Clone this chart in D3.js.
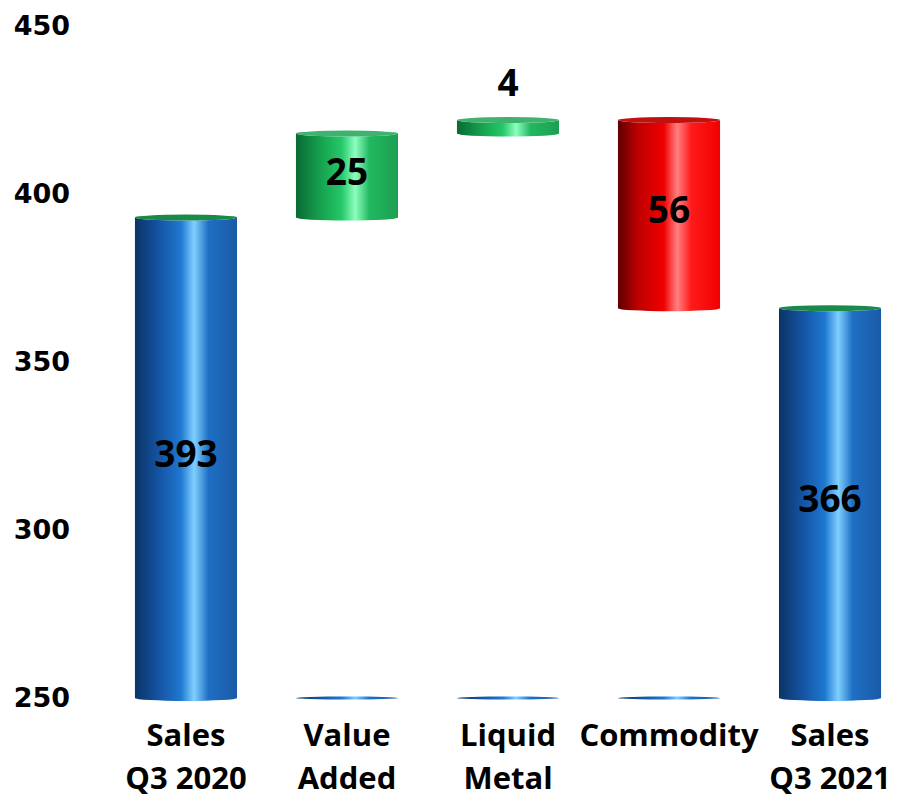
<!DOCTYPE html>
<html>
<head>
<meta charset="utf-8">
<script src="https://cdn.jsdelivr.net/npm/d3@7"></script>
<style>
  body { margin: 0; background: #fff; }
  text { font-family: "Open Sans", Lato, sans-serif; font-weight: bold; fill: #000; }
</style>
</head>
<body>
<div id="chart"></div>
<script>
// data
var categories = ["Sales Q3 2020", "Value Added", "Liquid Metal", "Commodity", "Sales Q3 2021"];
var labelLines = [["Sales", "Q3 2020"], ["Value", "Added"], ["Liquid", "Metal"], ["Commodity"], ["Sales", "Q3 2021"]];
var values = [393, 25, 4, -56, 366];
var kinds = ["total", "up", "up", "down", "total"];
var yTicks = [250, 300, 350, 400, 450];

// dimensions
var W = 911, H = 798;
var margin = {top: 26, right: 0, bottom: 100, left: 105};
var width = W - margin.left - margin.right,
    height = H - margin.top - margin.bottom;

var svg = d3.select("#chart").append("svg")
    .attr("width", W).attr("height", H);

var defs = svg.append("defs");
function grad(id, stops) {
  var g = defs.append("linearGradient").attr("id", id)
    .attr("x1", "0%").attr("x2", "100%").attr("y1", "0%").attr("y2", "0%");
  stops.forEach(function(s) {
    g.append("stop").attr("offset", s[0]).attr("stop-color", s[1]);
  });
}
grad("gTotal", [["0%", "#0b3467"], ["25%", "#1556a6"], ["45%", "#1f78d1"], ["58%", "#7fd0ff"], ["72%", "#1f6fc4"], ["100%", "#1a5aa6"]]);
grad("gUp", [["0%", "#0a6a34"], ["25%", "#16a350"], ["45%", "#25c868"], ["58%", "#8dffc0"], ["72%", "#22b860"], ["100%", "#1d9e52"]]);
grad("gDown", [["0%", "#5e0000"], ["20%", "#c00000"], ["45%", "#f00000"], ["58%", "#ff8080"], ["72%", "#ff1a1a"], ["100%", "#f00000"]]);

var g = svg.append("g")
  .attr("transform", "translate(" + margin.left + "," + margin.top + ")");

var x = d3.scaleBand()
  .domain(categories)
  .range([0, width])
  .paddingInner(0.366)
  .paddingOuter(0.186);

var y = d3.scaleLinear()
  .domain([250, 450])
  .range([height, 0]);

// y axis (labels only)
var yAxis = g.append("g")
  .call(d3.axisLeft(y).tickValues(yTicks).tickSize(0).tickPadding(35));
yAxis.select(".domain").remove();
yAxis.selectAll("text")
  .style("font-family", "'DejaVu Sans', sans-serif")
  .style("font-weight", "bold")
  .style("font-size", "27px");

// build waterfall rows
var running = 0;
var rows = categories.map(function(c, i) {
  var lo, hi;
  if (kinds[i] == "total") { lo = 250; hi = values[i]; running = values[i]; }
  else {
    var next = running + values[i];
    lo = Math.min(running, next); hi = Math.max(running, next);
    running = next;
  }
  return {cat: c, val: values[i], kind: kinds[i], lo: lo, hi: hi, lines: labelLines[i]};
});

var ry = 3;
var fills = {total: "url(#gTotal)", up: "url(#gUp)", down: "url(#gDown)"};

function cylPath(d) {
  var x0 = x(d.cat), x1 = x0 + x.bandwidth(), rx = x.bandwidth() / 2;
  var yt = y(d.hi), yb = y(d.lo);
  return "M" + x0 + "," + yt + " L" + x0 + "," + yb +
    " A" + rx + "," + ry + " 0 0 0 " + x1 + "," + yb +
    " L" + x1 + "," + yt +
    " A" + rx + "," + ry + " 0 0 1 " + x0 + "," + yt + "Z";
}

// invisible base bars leave a thin blue ellipse on the floor
g.selectAll(".base")
  .data(rows.filter(function(d) { return d.kind != "total"; }))
  .enter().append("ellipse")
    .attr("class", "base")
    .attr("cx", function(d) { return x(d.cat) + x.bandwidth() / 2; })
    .attr("cy", y(250))
    .attr("rx", x.bandwidth() / 2)
    .attr("ry", 1.5)
    .attr("fill", "url(#gTotal)");

var bars = g.selectAll(".bar")
  .data(rows)
  .enter().append("g").attr("class", "bar");

bars.append("path")
  .attr("d", cylPath)
  .attr("fill", function(d) { return fills[d.kind]; });

// top caps
bars.append("ellipse")
  .attr("cx", function(d) { return x(d.cat) + x.bandwidth() / 2; })
  .attr("cy", function(d) { return y(d.hi); })
  .attr("rx", x.bandwidth() / 2)
  .attr("ry", ry)
  .attr("fill", function(d) { return d.kind == "total" ? "#1a8a4a" : (d.kind == "up" ? "#3fb36e" : "#c01010"); });

// value labels
bars.append("text")
  .attr("x", function(d) { return x(d.cat) + x.bandwidth() / 2; })
  .attr("y", function(d) {
    var h = y(d.lo) - y(d.hi);
    if (h < 40) return y(d.hi) - 37;
    return (y(d.lo) + y(d.hi)) / 2 - 4;
  })
  .attr("dy", "0.36em")
  .attr("text-anchor", "middle")
  .style("font-size", "37px")
  .text(function(d) { return Math.abs(d.val); });

// category labels
var cats = g.selectAll(".cat")
  .data(rows)
  .enter().append("text")
    .attr("class", "cat")
    .attr("text-anchor", "middle")
    .attr("x", function(d) { return x(d.cat) + x.bandwidth() / 2; })
    .attr("y", height + 48)
    .style("font-size", "31px");
cats.selectAll("tspan")
  .data(function(d) { return d.lines.map(function(l) { return {l: l, cx: x(d.cat) + x.bandwidth() / 2}; }); })
  .enter().append("tspan")
    .attr("x", function(d) { return d.cx; })
    .attr("dy", function(d, i) { return i == 0 ? 0 : 43; })
    .text(function(d) { return d.l; });
</script>
</body>
</html>
